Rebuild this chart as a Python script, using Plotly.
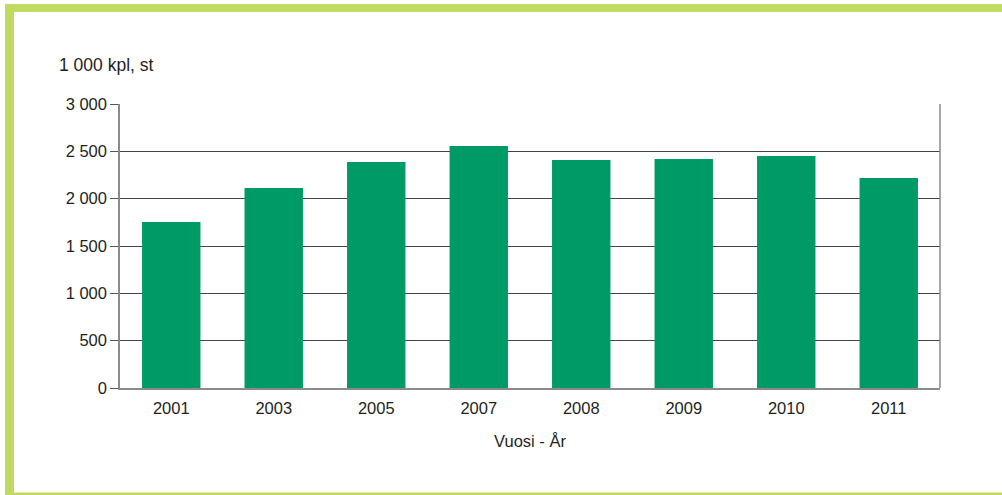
import plotly.graph_objects as go

years = ["2001", "2003", "2005", "2007", "2008", "2009", "2010", "2011"]
values = [1753, 2113, 2387, 2556, 2408, 2419, 2451, 2218]
y_ticks = [0, 500, 1000, 1500, 2000, 2500, 3000]
y_tick_labels = ["0", "500", "1 000", "1 500", "2 000", "2 500", "3 000"]

W, H = 1002, 495
L, R, T, B = 120, 940, 104, 388

def px(x):
    return (x - L) / (R - L)

def py(y):
    return (B - y) / (B - T)

frame = "#C0DA62"
txt = "#231F20"
font = "Liberation Sans, Arial, sans-serif"

fig = go.Figure(go.Bar(x=years, y=values, marker_color="#009A66",
                       marker_line_width=0, width=0.57))

shapes = [
    dict(type="rect", xref="paper", yref="paper", x0=px(5), x1=px(1002), y0=py(4), y1=py(12),
         fillcolor=frame, line_width=0, layer="below"),
    dict(type="rect", xref="paper", yref="paper", x0=px(5), x1=px(14), y0=py(4), y1=py(495),
         fillcolor=frame, line_width=0, layer="below"),
    dict(type="rect", xref="paper", yref="paper", x0=px(5), x1=px(1002), y0=py(492.5), y1=py(495),
         fillcolor=frame, line_width=0, layer="below"),
    dict(type="line", xref="paper", yref="paper", x0=1, x1=1, y0=0, y1=1,
         line=dict(color="#8A8A8A", width=1.5)),
]

fig.update_layout(
    width=W, height=H,
    margin=dict(l=L, r=W - R, t=T, b=H - B, pad=0),
    paper_bgcolor="white", plot_bgcolor="white",
    font=dict(family=font, size=16.5, color=txt),
    showlegend=False,
    bargap=0.43,
    shapes=shapes,
    xaxis=dict(showline=True, linecolor="#8A8A8A", linewidth=1.5, ticks="",
               tickfont=dict(size=16.5), showgrid=False, ticklabelstandoff=4,
               title=dict(text="Vuosi - År", font=dict(size=16.5), standoff=20)),
    yaxis=dict(range=[0, 3000], tickvals=y_ticks, ticktext=y_tick_labels,
               showline=True, linecolor="#8A8A8A", linewidth=1.5,
               ticks="outside", ticklen=8, tickcolor="#555555", tickwidth=1,
               showgrid=True, gridcolor="#444444", gridwidth=1,
               tickfont=dict(size=16.5), zeroline=False, fixedrange=True),
    annotations=[dict(text="1 000 kpl, st", xref="paper", yref="paper",
                      x=px(57), y=py(65), xanchor="left", yanchor="middle",
                      showarrow=False, font=dict(size=17.5, color=txt))],
)

fig.write_html("out.html", config={"displayModeBar": False},
               post_script="document.body.style.margin='0';document.body.style.padding='0';")
